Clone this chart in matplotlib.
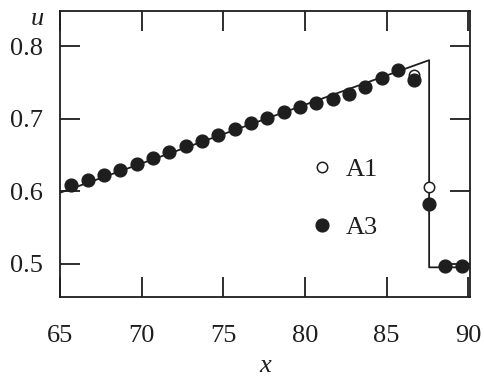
import matplotlib.pyplot as plt
from matplotlib.lines import Line2D

plt.rcParams['font.family'] = 'Liberation Serif'

# exact solution (piecewise linear)
exact_x = [65.0, 87.6, 87.6, 90.2]
exact_u = [0.598, 0.781, 0.495, 0.495]

# scheme A3 (filled)
a3_x = [65.7, 66.7, 67.7, 68.7, 69.7, 70.7, 71.7, 72.7, 73.7, 74.7, 75.7,
        76.7, 77.7, 78.7, 79.7, 80.7, 81.7, 82.7, 83.7, 84.7, 85.7, 86.7,
        87.6, 88.6, 89.6]
a3_u = [0.608, 0.615, 0.622, 0.630, 0.638, 0.646, 0.654, 0.662, 0.670, 0.678, 0.686,
        0.694, 0.701, 0.709, 0.716, 0.722, 0.728, 0.734, 0.744, 0.756, 0.767, 0.754,
        0.582, 0.497, 0.497]

# scheme A1 (open) - only visible where it differs
a1_x = [86.7, 87.6]
a1_u = [0.760, 0.606]

ink = '#1e1e1e'

fig = plt.figure(figsize=(4.84, 3.76), dpi=100)
ax = fig.add_axes([0.124, 0.21, 0.847, 0.761])

ax.plot(exact_x, exact_u, color=ink, lw=1.3, zorder=2)
ax.plot(a1_x, a1_u, 'o', mfc='white', mec=ink, mew=1.1, ms=7.5, zorder=3)
ax.plot(a3_x, a3_u, 'o', color=ink, ms=9.2, zorder=4)

ax.set_xlim(65.25, 90.1)
ax.set_ylim(0.454, 0.849)
ax.set_xticks([65, 70, 75, 80, 85, 90])
ax.set_yticks([0.5, 0.6, 0.7, 0.8])
ax.set_yticklabels(['0.5', '0.6', '0.7', '0.8'])

ax.tick_params(direction='in', length=14.5, width=1.3, color=ink, labelsize=19,
               top=True, right=True, labelcolor=ink)
ax.tick_params(axis='x', pad=20)
ax.tick_params(axis='y', pad=12)
for s in ax.spines.values():
    s.set_linewidth(1.3)
    s.set_color(ink)

ax.text(-0.055, 1.01, 'u', transform=ax.transAxes, fontsize=19, style='italic',
        color=ink, ha='center', va='top')
ax.set_xlabel('x', fontsize=19, style='italic', color=ink, labelpad=6)

handles = [Line2D([], [], ls='none', marker='o', mfc='white', mec=ink, mew=1.1, ms=7.5),
           Line2D([], [], ls='none', marker='o', color=ink, ms=9.2)]
ax.legend(handles, ['A1', 'A3'], loc='center left', bbox_to_anchor=(0.575, 0.345),
          frameon=False, fontsize=19, labelspacing=1.3, handletextpad=0.4,
          handlelength=1.0, labelcolor=ink, borderpad=0)

fig.savefig('out.png', dpi=100)
